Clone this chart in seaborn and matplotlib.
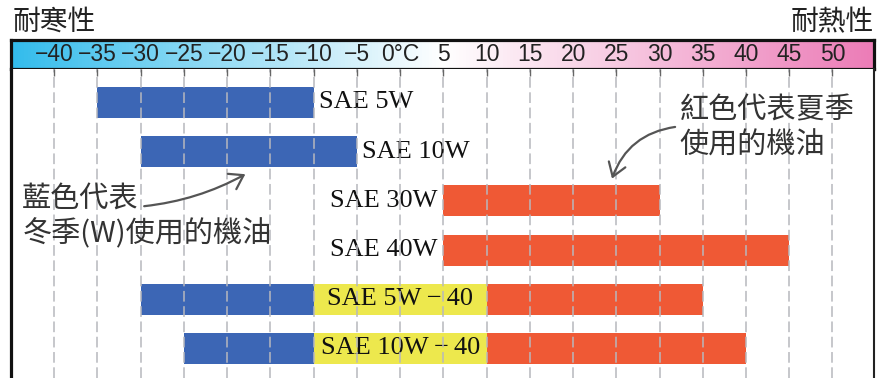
import numpy as np
import pandas as pd
import matplotlib
matplotlib.use("Agg")
import matplotlib.pyplot as plt
import seaborn as sns
from matplotlib.colors import LinearSegmentedColormap

# Data
oils = ["SAE 5W", "SAE 10W", "SAE 30W", "SAE 40W",
        "SAE 5W\u2009−\u200940", "SAE 10W\u2009−\u200940"]
winter_lo = [-35, -30, np.nan, np.nan, -30, -25]
winter_hi = [-10, -5, np.nan, np.nan, -10, -10]
summer_lo = [np.nan, np.nan, 5, 5, 10, 10]
summer_hi = [np.nan, np.nan, 30, 45, 35, 40]
temps = list(range(-40, 55, 5))
temp_labels = ["0°C" if t == 0 else str(t).replace("-", "−") for t in temps]

df = pd.DataFrame({"oil": oils, "w_lo": winter_lo, "w_hi": winter_hi,
                   "s_lo": summer_lo, "s_hi": summer_hi})
df["row"] = np.arange(len(df))

BLUE = "#3c66b5"
RED = "#ef5935"
YELLOW = "#ede84d"
GRID = "#b7b8bd"

sns.set_theme(style="white")
plt.rcParams["font.family"] = ["Noto Sans CJK TC", "DejaVu Sans"]

W, H = 877, 378
fig = plt.figure(figsize=(W / 100, H / 100), dpi=100)
ax_h = fig.add_axes([11 / W, (H - 69) / H, 863 / W, 29 / H])
ax = fig.add_axes([11 / W, 0, 863 / W, (H - 69) / H], sharex=ax_h)

xlim = (-45, 54.8)

# header strip with cold -> hot gradient
cmap = LinearSegmentedColormap.from_list(
    "temp", [(0, "#33bcec"), (0.5, "#ffffff"), (1, "#ec7cb7")])
ax_h.imshow(np.linspace(0, 1, 256)[None, :], cmap=cmap, aspect="auto",
            extent=(xlim[0], xlim[1], 0, 1))
ax_h.set_xlim(*xlim)
ax_h.set_ylim(0, 1)
for t, lab in zip(temps, temp_labels):
    ax_h.text(t, 0.5, lab, ha="center", va="center", fontsize=16.5,
              family=["Liberation Sans", "DejaVu Sans"], color="#222")
ax_h.tick_params(left=False, bottom=False, labelleft=False, labelbottom=False)
for s in ax_h.spines.values():
    s.set_linewidth(2.3)
    s.set_color("#111")

# main bars
segs = [("w_lo", "w_hi", BLUE), ("w_hi", "s_lo", YELLOW), ("s_lo", "s_hi", RED)]
for lo, hi, col in segs:
    d = df.dropna(subset=[lo, hi])
    ax.barh(d["row"], d[hi] - d[lo], left=d[lo], height=0.63, color=col,
            edgecolor="none", zorder=1)

serif = ["Liberation Serif", "DejaVu Serif"]
lab_kw = dict(fontsize=19, family=serif, color="#111", zorder=2, va="center")
for _, r in df.iterrows():
    if np.isnan(r["s_lo"]):
        ax.annotate(r["oil"], (r["w_hi"], r["row"]), xytext=(4, 0),
                    textcoords="offset points", ha="left", **lab_kw)
    elif np.isnan(r["w_hi"]):
        ax.annotate(r["oil"], (r["s_lo"], r["row"]), xytext=(-4, 0),
                    textcoords="offset points", ha="right", **lab_kw)
    else:
        ax.text((r["w_hi"] + r["s_lo"]) / 2, r["row"], r["oil"], ha="center",
                **lab_kw)

ax.set_xlim(*xlim)
ax.set_ylim(5.60, -0.677)
ax.set_xticks(temps)
ax.set_yticks([])
ax.grid(axis="x", color=GRID, linestyle=(0, (7, 3)), linewidth=1.1, zorder=3)
ax.set_axisbelow(False)
ax.tick_params(axis="x", top=True, bottom=False, direction="in", length=5,
               width=1, color="#666", labeltop=False, labelbottom=False)
ax.spines["top"].set_visible(False)
ax.spines["bottom"].set_visible(False)
ax.spines["left"].set_linewidth(2.3)
ax.spines["left"].set_color("#111")
ax.spines["right"].set_linewidth(1.5)
ax.spines["right"].set_color("#222")

# notes
note = dict(fontsize=21, color="#333", va="center", ha="left", zorder=4)
ax.text(-43.7, 1.97, "藍色代表", **note)
ax.text(-43.7, 2.68, "冬季(W)使用的機油", **note)
ax.text(32.3, 0.17, "紅色代表夏季", **note)
ax.text(32.3, 0.87, "使用的機油", **note)

arrow = dict(arrowstyle="->,head_length=0.45,head_width=0.3", color="#555",
             lw=1.6, shrinkA=0, shrinkB=0, mutation_scale=21)
ax.annotate("", xy=(-17.9, 1.46), xytext=(-29.6, 2.11),
            arrowprops=dict(connectionstyle="arc3,rad=0.1", **arrow))
ax.annotate("", xy=(24.5, 1.55), xytext=(31.8, 0.5),
            arrowprops=dict(connectionstyle="arc3,rad=0.3", **arrow))

# side captions above the header
fig.text(13 / W, 1 - 22 / H, "耐寒性", ha="left", va="center", fontsize=20, color="#222")
fig.text(874 / W, 1 - 22 / H, "耐熱性", ha="right", va="center", fontsize=20, color="#222")

fig.savefig("out.png", dpi=100)
